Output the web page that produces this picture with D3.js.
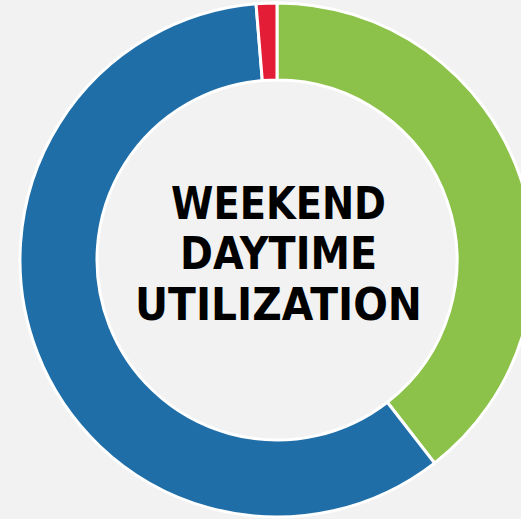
<!DOCTYPE html>
<html><head><meta charset="utf-8">
<script src="https://cdn.jsdelivr.net/npm/d3@7"></script>
<style>html,body{margin:0;padding:0;background:#f2f2f2;overflow:hidden}</style>
</head><body>
<svg id="chart" width="521" height="519"></svg>
<script>
const categories = ["Utilized", "Unutilized", "Other"];
const values = [39.5, 59.2, 1.3];
const colors = ["#8cc24a", "#1f6ea8", "#e31d36"];
const titleLines = ["WEEKEND", "DAYTIME", "UTILIZATION"];
const titleWidths = [215, 197, 287];

const svg = d3.select("#chart");
const cx = 277, cy = 260, rOuter = 257, rInner = 180;
const g = svg.append("g").attr("transform", `translate(${cx},${cy})`);
const pie = d3.pie().sort(null).value(d => d.v);
const arc = d3.arc().innerRadius(rInner).outerRadius(rOuter);
const data = categories.map((c, i) => ({c, v: values[i], col: colors[i]}));
g.selectAll("path").data(pie(data)).join("path")
  .attr("d", arc).attr("fill", d => d.data.col)
  .attr("stroke", "#fff").attr("stroke-width", 3).attr("stroke-linejoin", "miter");

const tg = g.append("g").attr("transform", "translate(1.5,0)");
tg.selectAll("text").data(titleLines).join("text")
  .attr("x", 0).attr("y", (d, i) => -41.5 + i * 50.5)
  .attr("text-anchor", "middle")
  .attr("font-family", "'DejaVu Sans', sans-serif").attr("font-weight", "bold")
  .attr("font-size", 44).attr("fill", "#000")
  .attr("textLength", (d, i) => titleWidths[i])
  .attr("lengthAdjust", "spacingAndGlyphs")
  .text(d => d);
</script>
</body></html>
